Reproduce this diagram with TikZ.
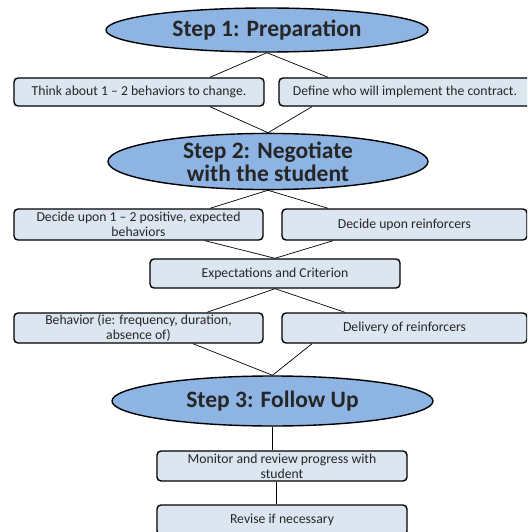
\documentclass[tikz,border=0pt]{standalone}
\usepackage{fontspec}
\setmainfont{Carlito}
\usetikzlibrary{shapes.geometric,positioning}
\definecolor{stepblue}{HTML}{8DB4E2}
\definecolor{boxblue}{HTML}{DCE6F1}
\definecolor{textgray}{HTML}{262626}

\begin{document}
\begin{tikzpicture}[x=1pt,y=-1pt,
    stepnode/.style={ellipse, draw=black, line width=1.4pt, fill=stepblue, text=textgray,
      font=\bfseries\fontsize{23.5}{23}\selectfont, align=center, inner sep=0pt},
    taskbox/.style={rectangle, rounded corners=4pt, draw=black, line width=1.4pt, fill=boxblue,
      text=textgray, font=\fontsize{13.7}{15}\selectfont, align=center, inner sep=0pt},
    link/.style={draw=black, line width=0.7pt}]
      \clip (0,0) rectangle (527,532);
      \node[stepnode, minimum width=322, minimum height=44] at (267,30) (step1) {Step 1: Preparation};
      \node[taskbox, minimum width=250, minimum height=28] at (139,92) (think) {Think about 1 -- 2 behaviors to change.};
      \node[taskbox, minimum width=252, minimum height=28] at (405,92) (define) {Define who will implement the contract.};
      \node[stepnode, minimum width=320, minimum height=53] at (268,161.5) (step2) {Step 2: Negotiate\\with the student};
      \node[taskbox, minimum width=249, minimum height=31] at (138.5,224.5) (decide) {Decide upon 1 -- 2 positive, expected\\behaviors};
      \node[taskbox, minimum width=245, minimum height=31] at (404.5,224.5) (reinf) {Decide upon reinforcers};
      \node[taskbox, minimum width=250, minimum height=29] at (275,273.5) (expect) {Expectations and Criterion};
      \node[taskbox, minimum width=249, minimum height=30] at (138.5,328) (behav) {Behavior (ie: frequency, duration,\\absence of)};
      \node[taskbox, minimum width=245, minimum height=30] at (404.5,328) (deliv) {Delivery of reinforcers};
      \node[stepnode, minimum width=321, minimum height=50] at (272.5,401) (step3) {Step 3: Follow Up};
      \node[taskbox, minimum width=250, minimum height=30] at (282,466) (monitor) {Monitor and review progress with\\student};
      \node[taskbox, minimum width=250, minimum height=30] at (282,520) (revise) {Revise if necessary};
      \draw[link] ([xshift=71]think.north) -- (step1.south) -- ([xshift=-77]define.north);
      \draw[link] ([xshift=71]think.south) -- (step2.north) -- ([xshift=-93]define.south);
      \draw[link] ([xshift=71.5]decide.north) -- (step2.south) -- ([xshift=-76.5]reinf.north);
      \draw[link] ([xshift=66.5]decide.south) -- (expect.north) -- ([xshift=-71.5]reinf.south);
      \draw[link] ([xshift=68.5]behav.north) -- (expect.south) -- ([xshift=-59.5]deliv.north);
      \draw[link] ([xshift=54.5]behav.south) -- (step3.north) -- ([xshift=-92.5]deliv.south);
      \draw[link] (step3.south) -- (step3.south |- monitor.north);
      \draw[link] ([xshift=-6]monitor.south) -- ([xshift=-6]revise.north);
\end{tikzpicture}
\end{document}
